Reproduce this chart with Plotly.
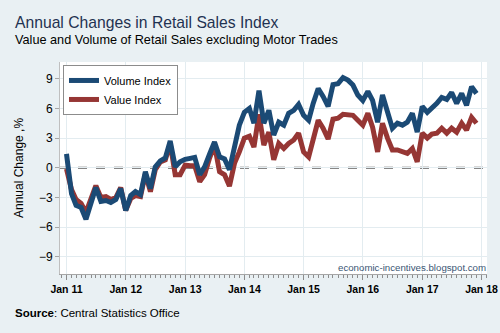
import pandas as pd
import plotly.graph_objects as go

# Monthly observations, Jan 2011 - Dec 2017
months = pd.date_range("2011-01-01", periods=84, freq="MS")

volume_index = [
    1.4, -2.6, -3.8, -4.0, -5.2, -3.6, -2.0, -3.4, -3.3, -3.5, -3.2, -2.1,
    -4.3, -2.8, -2.4, -2.7, -0.4, -2.1, 0.1, 0.7, 1.0, 2.7, 0.1, 0.6,
    0.85, 0.95, 1.05, -0.7, 0.1, 1.4, 2.6, 1.1, 0.9, -0.2, 2.1, 4.3,
    5.6, 6.0, 4.5, 7.8, 4.5, 5.8, 3.3, 4.6, 4.3, 5.5, 5.8, 6.4,
    5.3, 4.8, 6.5, 8.0, 7.2, 6.2, 8.4, 8.5, 9.1, 8.85, 8.35, 7.35,
    6.8, 7.7, 6.8, 4.6, 7.35, 5.8, 4.0, 4.5, 4.3, 4.6, 5.5, 3.6,
    6.2, 5.6, 6.0, 6.5, 7.1, 6.9, 7.6, 6.5, 7.5, 6.3, 8.2, 7.5,
]

value_index = [
    -0.1, -2.2, -3.2, -3.6, -4.5, -3.2, -1.8, -3.0, -2.9, -3.2, -3.0, -2.0,
    -4.3, -3.1, -2.8, -2.9, -0.6, -2.4, -0.2, 0.6, 0.8, 2.45, -0.7, -0.7,
    0.27, 0.2, 0.2, -1.4, -0.7, 1.0, 2.3, -0.4, -0.7, -1.85, 0.45, 1.6,
    3.0, 3.2, 2.1, 5.4, 2.3, 3.6, 0.8, 2.45, 1.95, 2.45, 2.8, 3.5,
    1.6, 1.1, 2.8, 4.8, 4.0, 2.9, 4.9, 5.0, 5.4, 5.4, 5.3, 4.8,
    4.3, 5.5, 4.1, 1.6, 4.5, 3.0, 1.8, 1.8, 1.6, 1.45, 1.95, 0.6,
    3.5, 3.0, 3.4, 3.5, 4.0, 3.5, 4.0, 3.6, 4.5, 3.8, 5.1, 4.5,
]

y_ticks = [-9, -6, -3, 0, 3, 6, 9]

BLUE = "#1B4A75"
RED = "#963634"
BG = "#E9F0F3"
GRID = "#E3ECF0"
FONT = "Liberation Sans, Arial, sans-serif"

fig = go.Figure()
fig.add_trace(go.Scatter(x=months, y=value_index, mode="lines", name="Value Index",
                         line=dict(color=RED, width=5)))
fig.add_trace(go.Scatter(x=months, y=volume_index, mode="lines", name="Volume Index",
                         line=dict(color=BLUE, width=5)))

# dashed zero reference line
fig.add_shape(type="line", xref="paper", x0=0, x1=1, yref="y", y0=0, y1=0,
              line=dict(color="#5F5F5F", width=2, dash="dash"), layer="between")

fig.update_layout(
    width=500, height=333,
    margin=dict(l=60, r=13, t=62, b=59, autoexpand=False),
    paper_bgcolor=BG, plot_bgcolor="white",
    font=dict(family=FONT, color="#000000"),
    showlegend=True,
    legend=dict(x=0.007, y=0.986, xanchor="left", yanchor="top",
                bgcolor="white", bordercolor="#8C8C8C", borderwidth=1,
                font=dict(size=11, color="#000000"), traceorder="reversed",
                itemwidth=30, tracegroupgap=0),
    xaxis=dict(
        automargin=False,
        range=["2010-11-22", "2018-02-04"],
        tick0="2011-01-01", dtick="M12", tickformat="%b %y",
        ticks="outside", ticklen=5, tickcolor="#8C8C8C",
        tickfont=dict(size=10.5, color="#000000", weight="bold"),
        showgrid=True, gridcolor=GRID, gridwidth=1,
        showline=True, linecolor="#A6A6A6", linewidth=1,
        minor=dict(dtick="M1", tick0="2011-01-01", ticks="outside", ticklen=3,
                   tickcolor="#8C8C8C", showgrid=False),
        zeroline=False,
    ),
    yaxis=dict(
        automargin=False,
        range=[-10.72, 10.68], tickvals=y_ticks,
        ticks="outside", ticklen=4, tickcolor="#A6A6A6",
        tickfont=dict(size=12, color="#000000"),
        showgrid=True, gridcolor=GRID, gridwidth=1,
        showline=True, linecolor="#BFBFBF", linewidth=1,
        zeroline=False,
    ),
)

def px_x(px):
    return (px - 60) / 427

def px_y(py):
    return (274 - py) / 212

annotations = [
    dict(text="Annual Changes in Retail Sales Index", x=px_x(13), y=px_y(22),
         font=dict(size=15.7, color="#1F3251")),
    dict(text="Value and Volume of Retail Sales excluding Motor Trades", x=px_x(13), y=px_y(40),
         font=dict(size=12.7, color="#000000")),
    dict(text="<b>Source</b>: Central Statistics Office", x=px_x(13), y=px_y(313),
         font=dict(size=11.5, color="#000000")),
]
for a in annotations:
    fig.add_annotation(xref="paper", yref="paper", xanchor="left", yanchor="middle",
                       showarrow=False, **a)

fig.add_annotation(text="Annual Change ,%", xref="paper", yref="paper",
                   x=px_x(19), y=px_y(168), xanchor="center", yanchor="middle",
                   textangle=-90, showarrow=False, font=dict(size=12, color="#000000"))
fig.add_annotation(text="economic-incentives.blogspot.com", xref="paper", yref="paper",
                   x=px_x(488), y=px_y(267.5), xanchor="right", yanchor="middle",
                   showarrow=False, font=dict(size=9.7, color="#3A5573"))

fig.write_html("out.html")
